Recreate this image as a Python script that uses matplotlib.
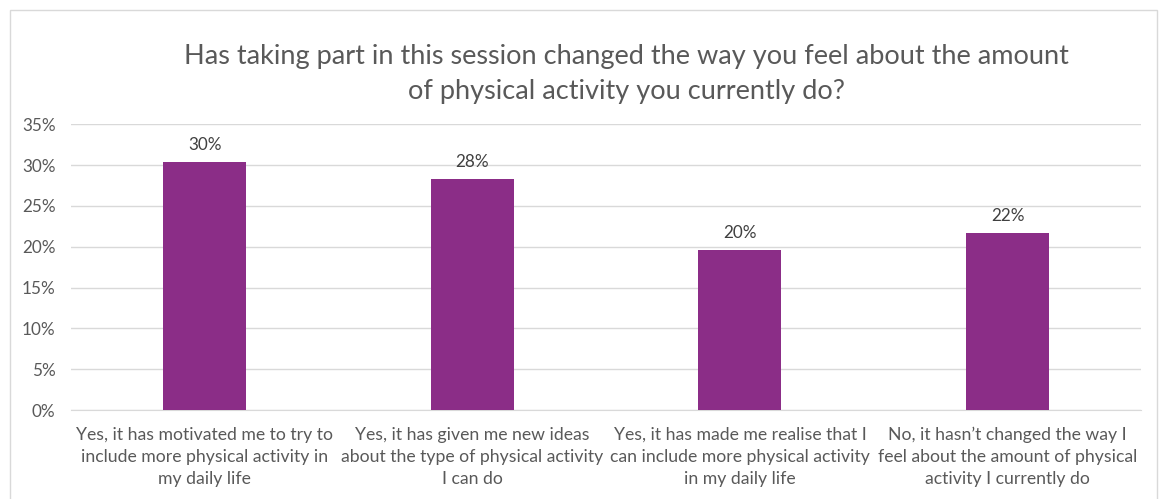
import matplotlib.pyplot as plt
from matplotlib.patches import Rectangle
from matplotlib.ticker import PercentFormatter

plt.rcParams['font.family'] = ['Lato', 'DejaVu Sans']

categories = [
    "Yes, it has motivated me to try to\ninclude more physical activity in\nmy daily life",
    "Yes, it has given me new ideas\nabout the type of physical activity\nI can do",
    "Yes, it has made me realise that I\ncan include more physical activity\nin my daily life",
    "No, it hasn\u2019t changed the way I\nfeel about the amount of physical\nactivity I currently do",
]
values = [30.4, 28.3, 19.6, 21.7]
labels = ["30%", "28%", "20%", "22%"]
title = "Has taking part in this session changed the way you feel about the amount\nof physical activity you currently do?"

bar_color = '#8B2D87'
text_grey = '#595959'

fig = plt.figure(figsize=(11.6, 4.99), dpi=100)
ax = fig.add_axes([0.061, 0.178, 0.923, 0.573])

x = range(len(categories))
ax.bar(x, values, width=0.31, color=bar_color, zorder=3)
for xi, v, lab in zip(x, values, labels):
    ax.text(xi, v + 1.1, lab, ha='center', va='bottom', fontsize=12.3, color='#404040')

ax.set_xlim(-0.5, len(categories) - 0.5)
ax.set_ylim(0, 35)
ax.set_yticks(range(0, 36, 5))
ax.yaxis.set_major_formatter(PercentFormatter(decimals=0))
ax.grid(axis='y', color='#D9D9D9', linewidth=1, zorder=0)
ax.set_xticks(list(x))
ax.set_xticklabels(categories, fontsize=12.7, color=text_grey, linespacing=1.45)
ax.tick_params(axis='x', length=0, pad=12)
ax.tick_params(axis='y', length=0, labelsize=12.3, labelcolor=text_grey, pad=11)
for s in ['top', 'right', 'left']:
    ax.spines[s].set_visible(False)
ax.spines['bottom'].set_color('#D9D9D9')

fig.text(0.54, 0.852, title, ha='center', va='center', fontsize=19.5,
         color=text_grey, linespacing=1.5)

fig.patches.append(Rectangle((10 / 1160, -0.1), 1147 / 1160, 1.1 - 10 / 499,
                             transform=fig.transFigure, fill=False,
                             edgecolor='#D9D9D9', linewidth=1))

fig.savefig('out.png', dpi=100)
